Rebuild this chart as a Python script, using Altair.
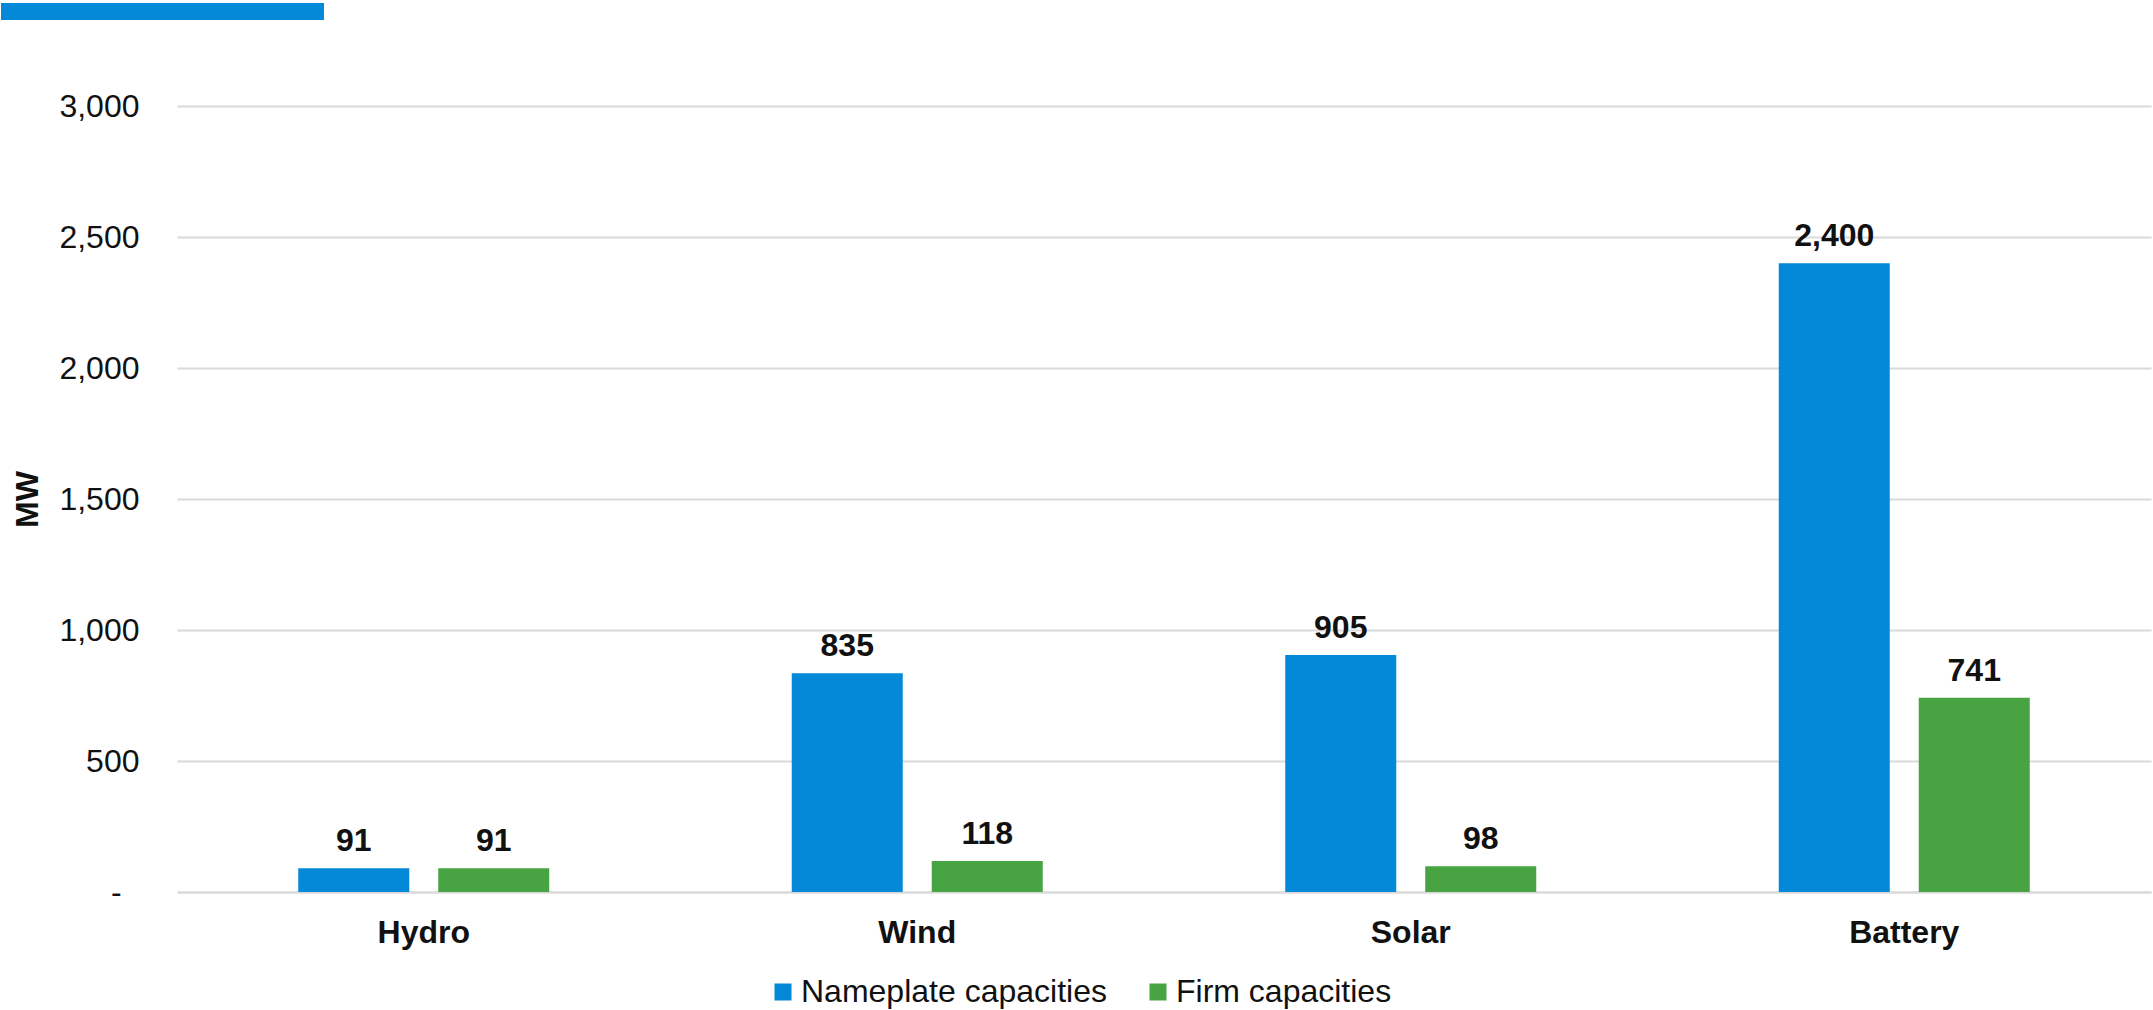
import altair as alt
import pandas as pd

categories = ["Hydro", "Wind", "Solar", "Battery"]
series = ["Nameplate capacities", "Firm capacities"]
nameplate = [91, 835, 905, 2400]
firm = [91, 118, 98, 741]
y_ticks = [0, 500, 1000, 1500, 2000, 2500, 3000]
colors = ["#0389D7", "#48A342"]

rows = []
for c, n, f in zip(categories, nameplate, firm):
    rows.append({"category": c, "series": series[0], "value": n})
    rows.append({"category": c, "series": series[1], "value": f})
df = pd.DataFrame(rows)

FONT = "Liberation Sans"
TXT = "#111111"

x_enc = alt.X(
    "category:N",
    sort=categories,
    title=None,
    scale=alt.Scale(paddingInner=0.4914, paddingOuter=0.2457),
    axis=alt.Axis(
        labelFontWeight="bold",
        labelFontSize=32,
        labelColor=TXT,
        labelPadding=25,
        labelAngle=0,
        ticks=False,
        domain=True,
        domainColor="#d9d9d9",
        domainWidth=2,
        grid=False,
    ),
)
xoff = alt.XOffset("series:N", sort=series, scale=alt.Scale(paddingInner=0.207, paddingOuter=0))
y_enc = alt.Y(
    "value:Q",
    title="MW",
    scale=alt.Scale(domain=[0, 3000], nice=False),
    axis=alt.Axis(
        values=y_ticks,
        labelExpr="datum.value == 0 ? '-\u00a0\u00a0\u200b' : format(datum.value, ',')",
        labelFontSize=32,
        labelColor=TXT,
        labelPadding=38,
        ticks=False,
        domain=False,
        grid=True,
        gridColor="#d9d9d9",
        gridWidth=2,
        titleFontSize=32,
        titleFontWeight="bold",
        titleColor=TXT,
        titlePadding=14,
    ),
)

bars = alt.Chart(df).mark_bar().encode(
    x=x_enc,
    xOffset=xoff,
    y=y_enc,
    color=alt.Color(
        "series:N",
        sort=series,
        scale=alt.Scale(domain=series, range=colors),
        legend=alt.Legend(
            title=None,
            orient="none",
            direction="horizontal",
            legendX=590,
            legendY=870,
            labelFontSize=32,
            labelColor=TXT,
            labelLimit=0,
            symbolType="square",
            symbolSize=289,
            symbolStrokeWidth=0,
            labelOffset=2,
            columnPadding=35,
        ),
    ),
)

labels = alt.Chart(df).mark_text(
    baseline="alphabetic", dy=-17, fontSize=32, fontWeight="bold", color=TXT, font=FONT
).encode(
    x=alt.X("category:N", sort=categories),
    xOffset=alt.XOffset("series:N", sort=series),
    y=alt.Y("value:Q"),
    text=alt.Text("value:Q", format=","),
)

deco = alt.Chart(pd.DataFrame({"a": [0]})).mark_rect(color="#0389D7", clip=False).encode(
    x=alt.value(-176), x2=alt.value(147), y=alt.value(-103), y2=alt.value(-86)
)

chart = (
    alt.layer(bars, labels, deco)
    .properties(
        width=1974,
        height=786,
        padding={"left": 177, "top": 106, "right": 2, "bottom": 118},
        autosize=alt.AutoSizeParams(type="none"),
    )
    .configure(font=FONT)
    .configure_view(stroke=None)
)

chart.save("out.html", embed_options={"renderer": "svg", "actions": False})
